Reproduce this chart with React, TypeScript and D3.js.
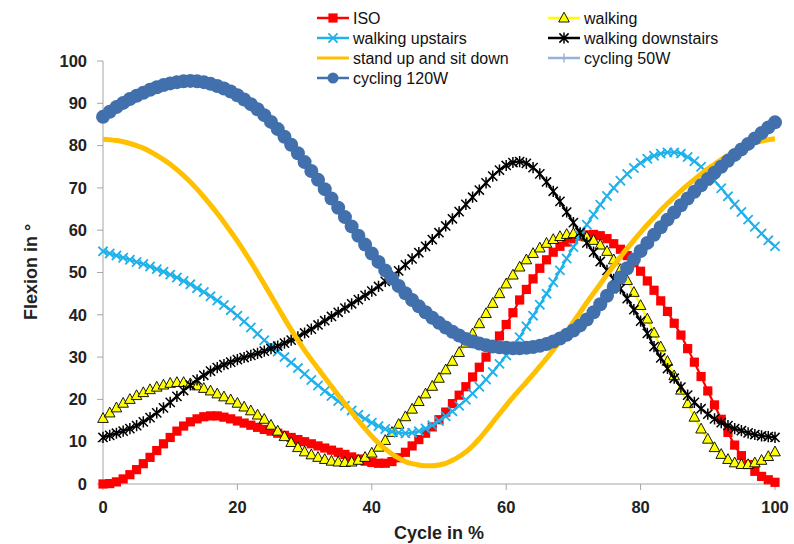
import React from 'react'
import * as d3 from 'd3'

// x categories: cycle in %
const cycle = d3.range(0, 101)

const iso = [
  0, 0.1, 0.5, 1.2, 2.2, 3.4, 4.8, 6.3, 7.9, 9.5,
  11.0, 12.5, 13.7, 14.7, 15.4, 15.9, 16.1, 16.1, 15.8, 15.4,
  14.9, 14.4, 13.9, 13.4, 12.9, 12.5, 12.0, 11.5, 11.0, 10.5,
  10.0, 9.5, 9.0, 8.5, 8.0, 7.5, 7.0, 6.4, 5.9, 5.4,
  5.1, 4.9, 4.9, 5.3, 6.2, 7.5, 9.0, 10.5, 12.0, 13.5,
  15.2, 17.0, 19.0, 21.0, 23.0, 25.3, 27.6, 30.0, 32.5, 35.0,
  37.7, 40.5, 43.5, 46.0, 48.5, 51.0, 53.0, 54.8, 56.2, 57.2,
  58.0, 58.6, 58.9, 59.0, 58.7, 58.0, 56.8, 55.5, 54.0, 52.3,
  50.3, 48.0, 45.8, 43.3, 40.8, 38.0, 35.2, 32.0, 28.8, 25.4,
  22.0, 18.7, 15.3, 12.2, 9.2, 6.7, 4.6, 3.0, 1.8, 1.0,
  0.4,
]

const walking = [
  15.5, 16.8, 18.0, 19.1, 20.0, 20.9, 21.6, 22.3, 22.9, 23.4,
  23.8, 24.0, 24.0, 23.7, 23.2, 22.6, 22.0, 21.3, 20.6, 19.9,
  19.1, 18.2, 17.3, 16.3, 15.3, 13.9, 12.5, 11.2, 9.8, 8.6,
  7.6, 6.9, 6.3, 5.8, 5.4, 5.2, 5.1, 5.2, 5.6, 6.3,
  7.3, 8.7, 10.3, 12.2, 14.1, 15.9, 17.7, 19.5, 21.3, 23.1,
  25.0, 27.0, 29.0, 31.1, 33.3, 35.5, 37.9, 40.3, 42.7, 45.0,
  47.3, 49.4, 51.3, 53.0, 54.5, 55.8, 56.9, 57.8, 58.5, 59.0,
  59.2, 59.0, 58.4, 57.6, 56.5, 55.0, 53.0, 50.7, 48.1, 45.3,
  42.2, 39.0, 35.7, 32.4, 29.0, 25.6, 22.2, 19.0, 15.8, 13.0,
  10.6, 8.6, 7.0, 5.8, 5.0, 4.6, 4.6, 5.0, 5.6, 6.5,
  7.6,
]

const walkingUpstairs = [
  55.0, 54.5, 54.0, 53.5, 53.0, 52.5, 52.0, 51.4, 50.8, 50.2,
  49.5, 48.8, 48.0, 47.2, 46.3, 45.4, 44.4, 43.4, 42.3, 41.1,
  39.8, 38.4, 37.0, 35.5, 34.0, 32.6, 31.3, 30.0, 28.7, 27.4,
  26.0, 24.6, 23.3, 22.0, 20.8, 19.6, 18.5, 17.4, 16.4, 15.4,
  14.5, 13.7, 13.0, 12.4, 12.1, 12.0, 12.1, 12.5, 13.1, 13.9,
  14.9, 16.0, 17.2, 18.5, 19.9, 21.4, 23.0, 24.7, 26.5, 28.4,
  30.4, 32.5, 34.7, 37.3, 39.8, 42.4, 45.0, 47.7, 50.5, 53.3,
  56.0, 58.7, 61.3, 63.7, 66.0, 68.1, 70.0, 71.7, 73.3, 74.7,
  75.9, 76.9, 77.6, 78.1, 78.4, 78.4, 78.1, 77.3, 76.3, 75.0,
  73.4, 71.7, 69.9, 68.0, 66.1, 64.3, 62.5, 60.8, 59.2, 57.6,
  56.2,
]

const walkingDownstairs = [
  11.0, 11.5, 12.0, 12.5, 13.1, 13.8, 14.7, 15.7, 16.8, 18.0,
  19.3, 20.7, 22.1, 23.4, 24.6, 25.7, 26.7, 27.5, 28.2, 28.8,
  29.4, 29.9, 30.4, 30.9, 31.4, 32.0, 32.6, 33.3, 34.0, 34.8,
  35.7, 36.6, 37.6, 38.6, 39.6, 40.6, 41.6, 42.6, 43.6, 44.6,
  45.6, 46.7, 47.9, 49.1, 50.4, 51.8, 53.2, 54.7, 56.2, 57.8,
  59.4, 61.0, 62.7, 64.4, 66.1, 67.8, 69.5, 71.2, 72.8, 74.2,
  75.3, 76.0, 76.2, 75.8, 74.8, 73.3, 71.4, 69.2, 66.8, 64.3,
  61.8, 59.4, 57.0, 54.8, 52.6, 50.5, 48.4, 46.2, 43.8, 41.2,
  38.5, 35.6, 32.5, 29.8, 27.3, 25.0, 22.9, 21.0, 19.3, 17.8,
  16.5, 15.4, 14.5, 13.8, 13.1, 12.6, 12.1, 11.7, 11.4, 11.2,
  11.0,
]

const standUpSitDown = [
  81.5, 81.4, 81.2, 80.9, 80.5, 80.0, 79.4, 78.6, 77.7, 76.7,
  75.6, 74.3, 72.9, 71.4, 69.7, 67.9, 66.0, 64.0, 61.9, 59.7,
  57.4, 55.0, 52.5, 49.9, 47.2, 44.5, 41.8, 39.1, 36.5, 34.0,
  31.6, 29.4, 27.3, 25.2, 23.1, 21.0, 19.0, 17.0, 15.0, 13.1,
  11.3, 9.7, 8.3, 7.1, 6.1, 5.3, 4.8, 4.5, 4.3, 4.3,
  4.5, 4.9, 5.6, 6.5, 7.6, 9.0, 10.7, 12.6, 14.6, 16.6,
  18.6, 20.5, 22.3, 24.1, 25.9, 27.8, 29.7, 31.7, 33.8, 36.0,
  38.3, 40.6, 42.9, 45.1, 47.3, 49.5, 51.6, 53.7, 55.7, 57.6,
  59.5, 61.3, 63.0, 64.7, 66.3, 67.8, 69.3, 70.7, 72.0, 73.3,
  74.5, 75.6, 76.7, 77.7, 78.6, 79.4, 80.1, 80.7, 81.1, 81.4,
  81.6,
]

const cycling120W = [
  86.8, 88.0, 89.1, 90.1, 91.0, 91.8, 92.5, 93.2, 93.8, 94.3,
  94.7, 95.0, 95.2, 95.3, 95.2, 95.0, 94.6, 94.1, 93.5, 92.8,
  91.9, 90.9, 89.8, 88.6, 87.2, 85.6, 83.9, 82.1, 80.2, 78.2,
  76.1, 74.0, 71.9, 69.7, 67.5, 65.3, 63.1, 60.9, 58.7, 56.6,
  54.5, 52.5, 50.5, 48.6, 46.8, 45.1, 43.5, 42.0, 40.6, 39.3,
  38.1, 37.0, 36.0, 35.1, 34.3, 33.7, 33.2, 32.8, 32.5, 32.3,
  32.2, 32.1, 32.1, 32.2, 32.4, 32.7, 33.1, 33.7, 34.4, 35.3,
  36.3, 37.5, 38.9, 40.6, 42.5, 44.5, 46.6, 48.8, 51.0, 53.1,
  55.1, 57.0, 58.9, 60.7, 62.5, 64.2, 65.9, 67.5, 69.1, 70.6,
  72.1, 73.6, 75.0, 76.4, 77.8, 79.1, 80.4, 81.7, 83.0, 84.3,
  85.5,
]

// cycling 50W is completely covered by the 120W curve in the picture
const cycling50W = cycling120W.slice()

const yTicks = [0, 10, 20, 30, 40, 50, 60, 70, 80, 90, 100]
const xTicks = [0, 20, 40, 60, 80, 100]

type Marker = 'square' | 'triangle' | 'x' | 'star' | 'none' | 'plus' | 'circle'

const seriesList: { name: string; values: number[]; color: string; width: number; marker: Marker }[] = [
  { name: 'ISO', values: iso, color: '#FF0000', width: 2.2, marker: 'square' },
  { name: 'walking', values: walking, color: '#FFFF00', width: 2.2, marker: 'triangle' },
  { name: 'walking upstairs', values: walkingUpstairs, color: '#1FB1EB', width: 2.2, marker: 'x' },
  { name: 'walking downstairs', values: walkingDownstairs, color: '#000000', width: 2.2, marker: 'star' },
  { name: 'stand up and sit down', values: standUpSitDown, color: '#FFC000', width: 5, marker: 'none' },
  { name: 'cycling 50W', values: cycling50W, color: '#95B3D7', width: 2.2, marker: 'plus' },
  { name: 'cycling 120W', values: cycling120W, color: '#4170AC', width: 2.2, marker: 'circle' },
]

const W = 794
const H = 544
const margin = { top: 61, right: 19, bottom: 60, left: 103 }
const font = '"Liberation Sans", Arial, sans-serif'

function MarkerShape({ type, color, x, y, small }: { type: Marker; color: string; x: number; y: number; small?: boolean }) {
  if (type === 'square') return <rect x={x - 4.6} y={y - 4.6} width={9.2} height={9.2} fill={color} />
  if (type === 'triangle')
    return <path d={`M${x},${y - 5.8}L${x + 5.3},${y + 4}L${x - 5.3},${y + 4}Z`} fill={color} stroke="#000" strokeWidth={0.9} />
  if (type === 'circle') return <circle cx={x} cy={y} r={small ? 5.5 : 7} fill={color} />
  const s = 4.6
  if (type === 'x')
    return <path d={`M${x - s},${y - s}L${x + s},${y + s}M${x - s},${y + s}L${x + s},${y - s}`} stroke={color} strokeWidth={1.8} />
  if (type === 'star')
    return (
      <path
        d={`M${x - s},${y - s}L${x + s},${y + s}M${x - s},${y + s}L${x + s},${y - s}M${x},${y - s - 1}L${x},${y + s + 1}`}
        stroke={color}
        strokeWidth={1.5}
      />
    )
  if (type === 'plus')
    return <path d={`M${x - s},${y}L${x + s},${y}M${x},${y - s}L${x},${y + s}`} stroke={color} strokeWidth={1.4} />
  return null
}

export default function App() {
  const x = d3.scaleLinear().domain([0, 100]).range([margin.left, W - margin.right])
  const y = d3.scaleLinear().domain([0, 100]).range([H - margin.bottom, margin.top])

  const line = d3
    .line<number>()
    .x((_, i) => x(cycle[i]))
    .y(d => y(d))
    .curve(d3.curveMonotoneX)

  const legendRows = [18, 38, 58, 78]
  const legendCols = [317, 548]

  return (
    <svg width={W} height={H} style={{ position: 'absolute', left: 0, top: 0, background: '#fff' }} fontFamily={font}>
      {/* axes */}
      <line x1={x(0)} x2={x(0)} y1={y(0)} y2={y(100)} stroke="#A6A6A6" strokeWidth={1} />
      <line x1={x(0)} x2={x(100)} y1={y(0)} y2={y(0)} stroke="#A6A6A6" strokeWidth={1} />
      {yTicks.map(t => (
        <g key={'y' + t}>
          <line x1={x(0) - 6} x2={x(0)} y1={y(t)} y2={y(t)} stroke="#A6A6A6" />
          <text x={87} y={y(t)} dy="0.35em" textAnchor="end" fontSize={16.5} fontWeight="bold" fill="#222">
            {t}
          </text>
        </g>
      ))}
      {xTicks.map(t => (
        <g key={'x' + t}>
          <line x1={x(t)} x2={x(t)} y1={y(0)} y2={y(0) + 6} stroke="#A6A6A6" />
          <text x={x(t)} y={513} textAnchor="middle" fontSize={16.5} fontWeight="bold" fill="#222">
            {t}
          </text>
        </g>
      ))}
      <text x={439} y={539} textAnchor="middle" fontSize={18} fontWeight="bold" fill="#222">
        Cycle in %
      </text>
      <text transform="translate(37,272) rotate(-90)" textAnchor="middle" fontSize={18} fontWeight="bold" fill="#222">
        Flexion in °
      </text>

      {/* series */}
      {seriesList.map(s => (
        <g key={s.name}>
          <path d={line(s.values) || ''} fill="none" stroke={s.color} strokeWidth={s.width} />
          {s.values.map((v, i) => (
            <MarkerShape key={i} type={s.marker} color={s.color} x={x(cycle[i])} y={y(v)} />
          ))}
        </g>
      ))}

      {/* legend */}
      {seriesList.map((s, i) => {
        const lx = s.name === 'cycling 120W' ? legendCols[0] : legendCols[i % 2]
        const ly = s.name === 'cycling 120W' ? legendRows[3] : legendRows[Math.floor(i / 2)]
        return (
          <g key={'leg' + s.name}>
            <line x1={lx} x2={lx + 32} y1={ly} y2={ly} stroke={s.color} strokeWidth={s.width === 5 ? 3 : 2.5} />
            <MarkerShape type={s.marker} color={s.color} x={lx + 16} y={ly} small />
            <text x={lx + 36} y={ly} dy="0.35em" fontSize={16} fill="#111">
              {s.name}
            </text>
          </g>
        )
      })}
    </svg>
  )
}
